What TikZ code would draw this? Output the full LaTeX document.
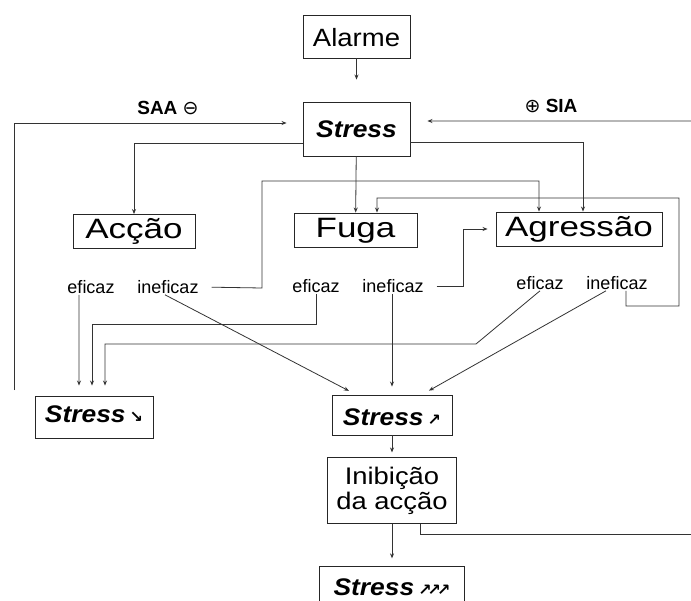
\documentclass[tikz,border=0pt]{standalone}
\usepackage{graphicx}
\usepackage{fontspec}
\setmainfont{Liberation Sans}
\newfontfamily\symfont{DejaVu Sans}
\usetikzlibrary{arrows.meta,positioning}

\tikzset{
  box/.style={draw=black!85, line width=0.9bp, inner sep=0pt, align=center},
  ttl/.style={box, font=\fontsize{28bp}{30bp}\selectfont, text height=24bp, text depth=10bp},
  strbox/.style={box, font=\fontsize{24bp}{26bp}\selectfont},
  lbl/.style={inner sep=1bp, font=\fontsize{18bp}{20bp}\selectfont},
  sgn/.style={font=\bfseries\fontsize{19bp}{21bp}\selectfont},
  arr/.style={draw=black!80, line width=0.8bp, -{Stealth[length=5bp,width=4bp]}},
  ln/.style={draw=black!80, line width=0.8bp}
}
\newcommand{\wide}[2][1.25]{\scalebox{#1}[1]{#2}}
\newcommand{\strs}{\wide[1.1]{\textbf{\textit{Stress}}}}
\newcommand{\smallarw}[1]{{\symfont\bfseries\fontsize{16bp}{16bp}\selectfont #1}}

\begin{document}
\begin{tikzpicture}[x=1bp, y=-1bp]
        \clip (0,0) rectangle (691,601);
        \fill[white] (0,0) rectangle (691,601);
        % boxes
        \node[box, minimum width=107bp, font=\fontsize{25bp}{27bp}\selectfont, text height=32bp, text depth=11bp] (alarme) at (356.5,36.5) {\wide[1.1]{Alarme}};
        \node[strbox, minimum width=107bp, text height=36bp, text depth=18bp] (stress) at (356.5,129) {\strs};
        \node[ttl, minimum width=122bp] (accao) at (134,231.5) {\wide{Acção}};
        \node[ttl, minimum width=123bp] (fuga) at (355.5,230) {\wide{Fuga}};
        \node[ttl, minimum width=166bp] (agr) at (579,229) {\wide{Agressão}};
        \node[strbox, minimum width=118bp, text height=26bp, text depth=16bp] (sdown) at (94,417) {\strs\,\smallarw{↘}};
        \node[strbox, minimum width=120bp, text height=30bp, text depth=10bp] (sup) at (392,415) {\strs\,\smallarw{↗}};
        \node[box, minimum width=129bp, minimum height=66bp, font=\fontsize{24bp}{25bp}\selectfont, below=22bp of sup] (inib) {\wide[1.14]{Inibição}\\\wide[1.14]{da acção}};
        \node[strbox, minimum width=145bp, text height=29bp, text depth=21bp, below=42bp of inib] (sup3) {\strs\,\smallarw{↗\kern-4bp↗\kern-4bp↗}};
        % labels
        \node[lbl] (acEf) at (91,287) {eficaz};
        \node[lbl] (acIn) at (168,287) {ineficaz};
        \node[lbl] (fuEf) at (316,286) {eficaz};
        \node[lbl] (fuIn) at (393,286) {ineficaz};
        \node[lbl] (agEf) at (540,283) {eficaz};
        \node[lbl] (agIn) at (617,283) {ineficaz};
        \node[sgn] (saa) at (168,108) {SAA {\symfont\mdseries ⊖}};
        \node[sgn] (sia) at (551,106) {{\symfont\mdseries ⊕} SIA};
        \coordinate (saaEnd) at (14,390);
        \coordinate (siaEnd) at (691,121);
        \coordinate (inibEnd) at (691,534);
        % connectors
        \draw[arr, shorten >=22bp] (alarme) -- (stress);
        \draw[arr, shorten >=16bp] (saaEnd) |- ([yshift=6bp]stress.west);
        \draw[arr, shorten >=17bp] (siaEnd) -- ([yshift=8bp]stress.east);
        \draw[arr] ([yshift=-14bp]stress.west) -| (accao.north);
        \draw[arr] (stress) -- (fuga);
        \draw[arr] ([yshift=-13bp]stress.east) -| ([xshift=4bp]agr.north);
        \draw[arr, shorten <=12bp] (acIn.east) -- (262,288) |- (539,181) -- ([xshift=-40bp]agr.north);
        \draw[arr, shorten <=12bp, shorten >=8bp] (fuIn.east) -- (463,286) |- (agr.west);
        \draw[arr] ([xshift=9bp]agIn.south) |- (679,306) |- (377,198) -- ([xshift=21.5bp]fuga.north);
        \draw[arr, shorten >=10bp] ([xshift=-12bp]acEf.south) -- ([xshift=-15bp]sdown.north);
        \draw[arr, shorten >=10bp] (fuEf.south) -- (316,324) -| ([xshift=-2bp]sdown.north);
        \draw[arr, shorten >=10bp] (agEf.south) -- (476,344) -| ([xshift=11bp]sdown.north);
        \draw[arr, shorten >=8bp] ([xshift=-3bp]acIn.south) -- ([xshift=-36bp]sup.north);
        \draw[arr, shorten >=8bp] ([xshift=-1bp]fuIn.south) -- (sup.north);
        \draw[arr, shorten >=8bp] ([xshift=-11bp]agIn.south) -- ([xshift=30bp]sup.north);
        \draw[arr, shorten >=5bp] (sup) -- (inib);
        \draw[arr, shorten >=8bp] (inib) -- (sup3);
        \draw[ln] ([xshift=28.5bp]inib.south) |- (inibEnd);
    \end{tikzpicture}
\end{document}
